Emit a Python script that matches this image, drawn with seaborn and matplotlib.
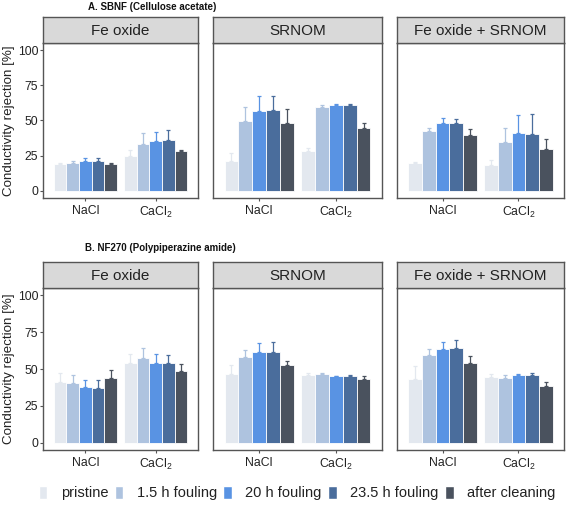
import matplotlib
matplotlib.use("Agg")
import matplotlib.pyplot as plt
from matplotlib.patches import Patch
import seaborn as sns
import pandas as pd

stages = ["pristine", "1.5 h fouling", "20 h fouling", "23.5 h fouling", "after cleaning"]
salts = ["NaCl", r"$\mathregular{CaCl_2}$"]
foulants = ["Fe oxide", "SRNOM", "Fe oxide + SRNOM"]
colors = ["#e3e8ef", "#aec3df", "#5993e3", "#4a6d9c", "#4a525e"]

# A. SBNF: mean per foulant -> salt -> stage, plus upper error
sbnf_mean = [
    [[19, 20, 21.5, 21.5, 19], [25, 33.4, 35.5, 36.3, 28.7]],
    [[21.3, 49.3, 56.4, 57.3, 48.3], [28.2, 59.7, 60.7, 60.7, 45]],
    [[19.7, 42.2, 48.1, 48.1, 40], [18.2, 34.4, 41, 40.5, 30]],
]
sbnf_err = [
    [[1, 1, 2, 2, 0.5], [4.4, 7.4, 6.5, 7.1, 0.5]],
    [[5.7, 10.4, 11.1, 10.2, 9.7], [2.4, 1.0, 1.1, 1.1, 3.3]],
    [[0.9, 2.6, 4.0, 3.3, 3.8], [3.8, 10.6, 12.8, 13.8, 7.2]],
]
# B. NF270
nf270_mean = [
    [[41.2, 40.5, 37.5, 37, 44], [54.3, 57.7, 54, 53.8, 48.6]],
    [[46.8, 57.9, 61.5, 61.5, 53], [46.2, 46.8, 45, 45.5, 43.2]],
    [[43.5, 59.7, 63.5, 64.2, 54.3], [44.4, 43.9, 45.7, 46.2, 38.3]],
]
nf270_err = [
    [[5.8, 5.5, 5, 5.3, 5], [5.7, 6.5, 6.4, 5.4, 5]],
    [[5.9, 4.7, 6.1, 7, 2.2], [1.3, 0.7, 0.5, 0.7, 2.1]],
    [[8.5, 4, 5, 5.2, 4.3], [2.4, 2.1, 1.1, 1.3, 3.1]],
]

titles = ["A. SBNF (Cellulose acetate)", "B. NF270 (Polypiperazine amide)"]

sns.set_style("white")
plt.rcParams["font.family"] = ["Liberation Sans", "DejaVu Sans"]

W, H = 567, 511
fig = plt.figure(figsize=(W / 100, H / 100), dpi=100)

def px_axes(x0, y0, x1, y1):
    return fig.add_axes([x0 / W, 1 - y1 / H, (x1 - x0) / W, (y1 - y0) / H])

cols_px = [(43, 198), (213, 382), (397, 564)]
rows_px = [(17.5, 43, 198), (262, 288, 450)]
frame = "#555555"

for r, (means, errs) in enumerate([(sbnf_mean, sbnf_err), (nf270_mean, nf270_err)]):
    ys, y0, y1 = rows_px[r]
    for c, (x0, x1) in enumerate(cols_px):
        ax = px_axes(x0, y0, x1, y1)
        rows = []
        for si, s in enumerate(salts):
            for ki, k in enumerate(stages):
                rows.append({"salt": s, "stage": k, "value": means[c][si][ki]})
        df = pd.DataFrame(rows)
        sns.barplot(data=df, x="salt", y="value", hue="stage", hue_order=stages,
                    order=salts, palette=colors, width=0.9, errorbar=None,
                    saturation=1, edgecolor="white", linewidth=0.6,
                    legend=False, ax=ax)
        bar_groups = list(ax.containers)
        for ki, cont in enumerate(bar_groups):
            for si, bar in enumerate(cont.patches):
                xc = bar.get_x() + bar.get_width() / 2
                h = bar.get_height()
                e = errs[c][si][ki]
                ax.errorbar(xc, h, yerr=[[0], [e]], fmt="none", ecolor=colors[ki],
                            elinewidth=0.9, capsize=1.5, capthick=0.9, zorder=1)
        ax.set_xlim(-0.6, 1.6)
        ax.set_ylim(-5, 105)
        ax.set_xlabel("")
        ax.set_ylabel("")
        ax.tick_params(axis="x", length=2, color=frame, labelsize=8.8,
                       labelcolor="#222222", pad=3, bottom=True)
        if c == 0:
            ax.set_yticks([0, 25, 50, 75, 100])
            ax.tick_params(axis="y", length=2, color=frame, labelsize=8.8,
                           labelcolor="#222222", pad=1.5, left=True)
            ax.set_ylabel("Conductivity rejection [%]", fontsize=9.6,
                          color="#222222", labelpad=2)
        else:
            ax.set_yticks([])
        for sp in ax.spines.values():
            sp.set_color(frame)
            sp.set_linewidth(1.0)
            sp.set_visible(True)

        strip = px_axes(x0, ys, x1, y0)
        strip.set_facecolor("#d9d9d9")
        strip.set_xticks([])
        strip.set_yticks([])
        for sp in strip.spines.values():
            sp.set_color(frame)
            sp.set_linewidth(1.0)
        strip.text(0.5, 0.47, foulants[c], ha="center", va="center",
                   fontsize=11, color="#222222", transform=strip.transAxes)

fig.text(152 / W, 1 - 7 / H, titles[0], ha="center", va="center",
         fontsize=7, fontweight="bold", color="#111111")
fig.text(160 / W, 1 - 248 / H, titles[1], ha="center", va="center",
         fontsize=7, fontweight="bold", color="#111111")

handles = [Patch(facecolor=col, edgecolor="white") for col in colors]
fig.legend(handles, stages, loc="center", bbox_to_anchor=(297 / W, 1 - 493 / H),
           ncol=5, frameon=False, fontsize=10.5, handlelength=0.6,
           handleheight=1.0, handletextpad=0.9, columnspacing=0.45,
           labelcolor="#222222")

fig.savefig("out.png", dpi=100)
